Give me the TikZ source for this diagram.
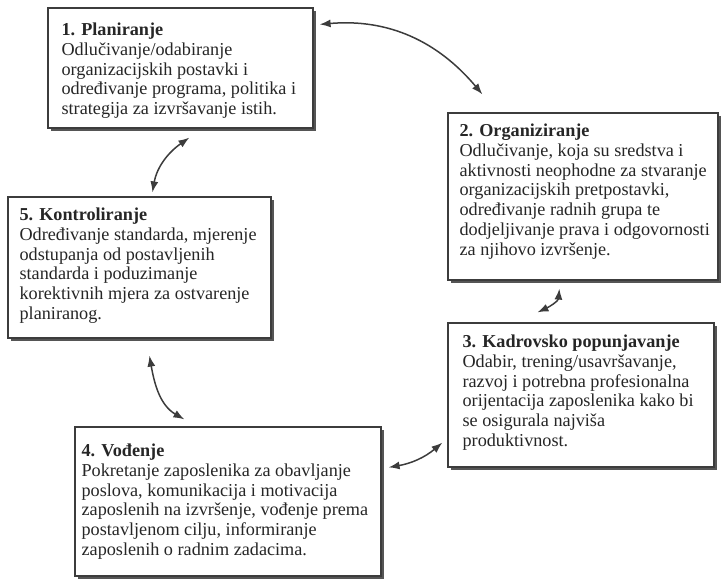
\documentclass[tikz,border=0pt]{standalone}
\usepackage{fontspec}
\setmainfont{Liberation Serif}
\usetikzlibrary{arrows.meta,shadows}
\definecolor{ink}{HTML}{262626}
\definecolor{edge}{HTML}{3C3C3C}
\definecolor{shade}{HTML}{555555}
\begin{document}
\begin{tikzpicture}[x=1pt,y=1pt,
  box/.style={draw=edge,line width=1.2pt,fill=white,inner sep=0pt,
    drop shadow={shadow xshift=3pt,shadow yshift=-3pt,fill=shade,opacity=1}},
  boxtext/.style={anchor=north west,inner sep=0pt,align=left,text=ink,
    font=\fontsize{18.2}{19.7}\selectfont},
  link/.style={draw=edge,line width=1.5pt,{Latex[length=11pt,width=8pt]}-{Latex[length=11pt,width=8pt]}}
]
\useasboundingbox (0,0) rectangle (722,581);

% boxes
\node[box,minimum width=265pt,minimum height=120pt] (b1) at (180.5,513) {};
\node[box,minimum width=270pt,minimum height=167pt] (b2) at (583,384.5) {};
\node[box,minimum width=263pt,minimum height=141pt] (b5) at (139.5,313.5) {};
\node[box,minimum width=266pt,minimum height=144pt] (b3) at (581,186) {};
\node[box,minimum width=306pt,minimum height=149pt] (b4) at (228,79.5) {};

% box contents
\node[boxtext] (t1) at ([xshift=14pt,yshift=-15.6pt]b1.north west)
  {\textbf{1. Planiranje}\\Odlučivanje/odabiranje\\organizacijskih postavki i\\određivanje programa, politika i\\strategija za izvršavanje istih.};
\node[boxtext] (t2) at ([xshift=12pt,yshift=-11.6pt]b2.north west)
  {\textbf{2. Organiziranje}\\Odlučivanje, koja su sredstva i\\aktivnosti neophodne za stvaranje\\organizacijskih pretpostavki,\\određivanje radnih grupa te\\dodjeljivanje prava i odgovornosti\\za njihovo izvršenje.};
\node[boxtext] (t5) at ([xshift=12pt,yshift=-11.6pt]b5.north west)
  {\textbf{5. Kontroliranje}\\Određivanje standarda, mjerenje\\odstupanja od postavljenih\\standarda i poduzimanje\\korektivnih mjera za ostvarenje\\planiranog.};
\node[boxtext] (t3) at ([xshift=15pt,yshift=-12.6pt]b3.north west)
  {\textbf{3. Kadrovsko popunjavanje}\\Odabir, trening/usavršavanje,\\razvoj i potrebna profesionalna\\orijentacija zaposlenika kako bi\\se osigurala najviša\\produktivnost.};
\node[boxtext] (t4) at ([xshift=7pt,yshift=-17.6pt]b4.north west)
  {\textbf{4. Vođenje}\\Pokretanje zaposlenika za obavljanje\\poslova, komunikacija i motivacija\\zaposlenih na izvršenje, vođenje prema\\postavljenom cilju, informiranje\\zaposlenih o radnim zadacima.};

% two-way links between the stages
\draw[link] ([xshift=6pt,yshift=-17pt]b1.north east) to[out=5,in=130] ([xshift=35pt,yshift=18pt]b2.north west);
\draw[link] ([xshift=142pt,yshift=-9pt]b1.south west) to[out=215,in=80] ([xshift=145pt,yshift=4pt]b5.north west);
\draw[link] ([xshift=112pt,yshift=-8pt]b2.south west) to[out=265,in=25] ([xshift=90pt,yshift=10pt]b3.north west);
\draw[link] ([xshift=142pt,yshift=-17pt]b5.south west) to[out=280,in=150] ([xshift=110pt,yshift=7pt]b4.north west);
\draw[link] ([xshift=7pt,yshift=-41pt]b4.north east) to[out=10,in=220] ([xshift=-5pt,yshift=25pt]b3.south west);
\end{tikzpicture}
\end{document}
